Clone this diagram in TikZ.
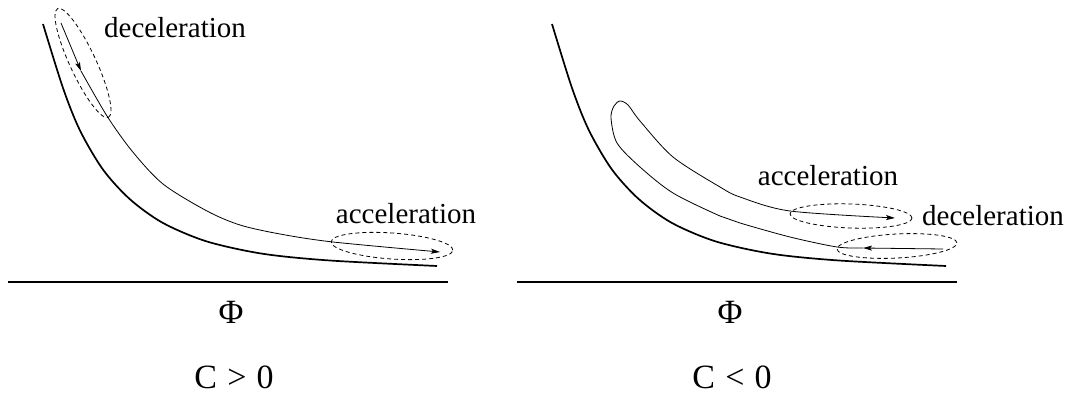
\documentclass[tikz,border=0pt]{standalone}
\usepackage{fontspec}
\setmainfont{Liberation Serif}
\usetikzlibrary{arrows.meta}
\tikzset{every picture/.style={line width=0.75pt}}
\tikzset{
  wall/.style={line width=1.7pt},
  orbit/.style={line width=0.8pt},
  zone/.style={line width=0.8pt, dash pattern=on 4pt off 3pt},
  tip/.style={-{Stealth[length=9pt,width=5pt,inset=2pt]}},
  word/.style={inner sep=0pt, anchor=base, font=\fontsize{29}{34}\selectfont},
  big/.style={inner sep=0pt, anchor=base, font=\fontsize{34}{40}\selectfont}
}

\begin{document}
\begin{tikzpicture}[x=1pt,y=-1pt]
    \useasboundingbox (0,0) rectangle (1068,396);

    % 势能曲线与轴（两幅图相同）
    \foreach \dx in {0,509} {
      \begin{scope}[xshift=\dx pt]
        \draw[wall] plot[smooth] coordinates {(43,24) (63,88) (80,130.5) (103,169.6)
          (130,199.3) (163,223) (207,241.5) (263,253.8) (330,260.5) (437,266)};
        \draw[wall] (8,282) -- (448,282);
      \end{scope}
    }

    % C > 0 的轨迹
    \draw[orbit, tip] (61,23) -- (81,71);
    \draw[orbit, tip] plot[smooth] coordinates {(81,71) (107,116) (132,151) (163,184)
      (207,211) (240,225) (280,234) (333,242) (440,252)};

    % 虚线区域
    \draw[zone, rotate around={-65:(83,63)}] (83,63) ellipse (60pt and 13pt);
    \draw[zone, rotate around={-4:(392,246)}] (392,246) ellipse (61pt and 13pt);

    % 标注
    \node[word] (decL) at (175,38) {deceleration};
    \node[word] (accL) at (406,223) {acceleration};
    \node[big] (phiL) at (231,323) {Φ};
    \node[big] (cpos) at (234,388) {C\hspace{0.3em}>\hspace{0.3em}0};

    % C < 0 的轨迹
    \draw[orbit, tip] (943,249) -- (863,248);
    \draw[orbit, tip] plot[smooth] coordinates {(863,248) (837,247) (790,237) (740,223)
      (720,216) (673,193) (640,167) (617,143) (611,118) (614,106) (620,101) (628,105)
      (640,121) (673,157) (720,187) (740,197) (790,211) (895,218)};

    % 虚线区域
    \draw[zone, rotate around={-2:(851,216)}] (851,216) ellipse (61pt and 12pt);
    \draw[zone, rotate around={3:(897,246)}] (897,246) ellipse (60pt and 12pt);

    % 标注
    \node[word] (accR) at (828,185) {acceleration};
    \node[word] (decR) at (993,225) {deceleration};
    \node[big] (phiR) at (730,323) {Φ};
    \node[big] (cneg) at (732,388) {C\hspace{0.3em}<\hspace{0.3em}0};
\end{tikzpicture}
\end{document}
